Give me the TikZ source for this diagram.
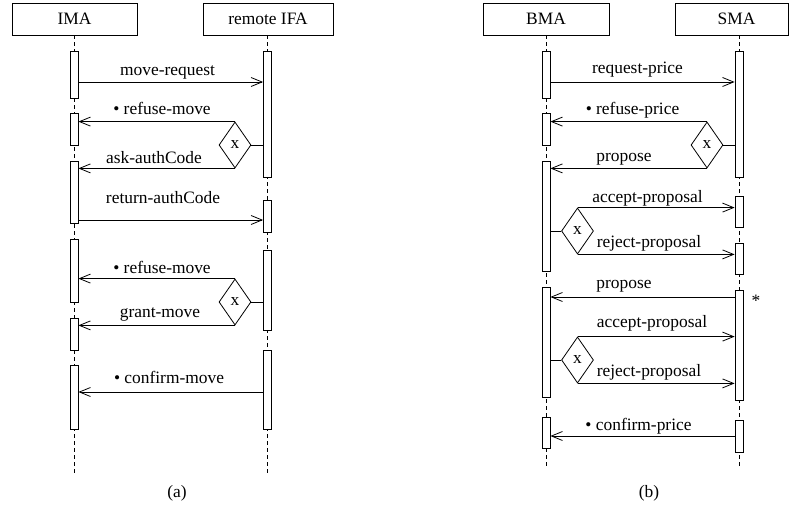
\documentclass[tikz,border=0pt]{standalone}
\usepackage{fontspec}
\setmainfont{Liberation Serif}
\usetikzlibrary{arrows.meta,shapes.geometric}

\tikzset{
  head/.style={draw, rectangle, minimum height=32pt, inner sep=0pt},
  actbar/.style={draw, fill=white, rectangle, minimum width=8pt, inner sep=0pt},
  lifeline/.style={dash pattern=on 4pt off 3pt},
  msg/.style={-{Straight Barb[length=11pt,width=9pt,line width=0.8pt]}},
  choice/.style={draw, diamond, minimum width=32pt, minimum height=46pt, inner sep=0pt},
  lbl/.style={anchor=base, inner sep=0pt},
}

% activation bar: name, x, top y, bottom y
\newcommand{\abar}[4]{\node[actbar, minimum height={#4-#3}] (#1) at (#2,{(#3+#4)/2}) {};}

\begin{document}
\begin{tikzpicture}[x=1pt, y=-1pt, line width=0.8pt, font=\fontsize{17.4}{20}\selectfont]
\useasboundingbox (0,0) rectangle (789,505);

% ---------------- (a) ----------------
\node[head, minimum width=125pt] (ima) at (74.5,19) {IMA};
\node[head, minimum width=130pt] (ifa) at (268,19) {remote IFA};

\coordinate (imaend) at (74,476);
\coordinate (ifaend) at (267.5,476);
\draw[lifeline] (ima.south -| imaend) -- (imaend);
\draw[lifeline] (ifa.south -| ifaend) -- (ifaend);

\abar{i1}{74}{51}{98}
\abar{i2}{74}{113}{145}
\abar{i3}{74}{161}{223}
\abar{i4}{74}{239}{302}
\abar{i5}{74}{318}{350}
\abar{i6}{74}{365}{429}

\abar{f1}{267.5}{51}{177}
\abar{f2}{267.5}{200}{232}
\abar{f3}{267.5}{250}{330}
\abar{f4}{267.5}{350}{429}

\node[choice] (d1) at (235,145) {x};
\node[choice] (d2) at (235,302) {x};

\coordinate (ra1) at (0,82);
\coordinate (ra2) at (0,220);
\coordinate (ra3) at (0,392);

\draw[msg] (i1.east |- ra1) -- (f1.west |- ra1);
\draw[msg] (d1.north) -- (i2.east |- d1.north);
\draw (d1.east) -- (f1.west |- d1.east);
\draw[msg] (d1.south) -- (i3.east |- d1.south);
\draw[msg] (i3.east |- ra2) -- (f2.west |- ra2);
\draw[msg] (d2.north) -- (i4.east |- d2.north);
\draw (d2.east) -- (f3.west |- d2.east);
\draw[msg] (d2.south) -- (i5.east |- d2.south);
\draw[msg] (f4.west |- ra3) -- (i6.east |- ra3);

\node[lbl] (la1) at (167.5,76) {move-request};
\node[lbl] (la2) at (162,115) {• refuse-move};
\node[lbl] (la3) at (154,164) {ask-authCode};
\node[lbl] (la4) at (163,204) {return-authCode};
\node[lbl] (la5) at (162,273) {• refuse-move};
\node[lbl] (la6) at (160,317) {grant-move};
\node[lbl] (la7) at (169,383) {• confirm-move};
\node[lbl] (capa) at (177,497) {(a)};

% ---------------- (b) ----------------
\node[head, minimum width=126pt] (bma) at (546,19) {BMA};
\node[head, minimum width=113pt] (sma) at (731.5,19) {\hspace*{10pt}SMA};

\coordinate (bmaend) at (546,468);
\coordinate (smaend) at (739,468);
\draw[lifeline] (bma.south -| bmaend) -- (bmaend);
\draw[lifeline] (sma.south -| smaend) -- (smaend);

\abar{b1}{546}{51}{98}
\abar{b2}{546}{113}{145}
\abar{b3}{546}{161}{271}
\abar{b4}{546}{287}{397}
\abar{b5}{546}{417}{448}

\abar{s1}{739}{51}{177}
\abar{s2}{739}{196}{227}
\abar{s3}{739}{243}{274}
\abar{s4}{739}{290}{400}
\abar{s5}{739}{420}{452}

\node[choice] (d3) at (707,145) {x};
\node[choice] (d4) at (577.5,231) {x};
\node[choice] (d5) at (577.5,360) {x};

\coordinate (rb1) at (0,82);
\coordinate (rb2) at (0,297);
\coordinate (rb3) at (0,436);

\draw[msg] (b1.east |- rb1) -- (s1.west |- rb1);
\draw[msg] (d3.north) -- (b2.east |- d3.north);
\draw (d3.east) -- (s1.west |- d3.east);
\draw[msg] (d3.south) -- (b3.east |- d3.south);
\draw (b3.east |- d4.west) -- (d4.west);
\draw[msg] (d4.north) -- (s2.west |- d4.north);
\draw[msg] (d4.south) -- (s3.west |- d4.south);
\draw[msg] (s4.west |- rb2) -- (b4.east |- rb2);
\draw (b4.east |- d5.west) -- (d5.west);
\draw[msg] (d5.north) -- (s4.west |- d5.north);
\draw[msg] (d5.south) -- (s4.west |- d5.south);
\draw[msg] (s5.west |- rb3) -- (b5.east |- rb3);

\node[lbl] (lb1) at (637.5,74) {request-price};
\node[lbl] (lb2) at (632.5,115) {• refuse-price};
\node[lbl] (lb3) at (624,162) {propose};
\node[lbl] (lb4) at (647.5,203) {accept-proposal};
\node[lbl] (lb5) at (649,247) {reject-proposal};
\node[lbl] (lb6) at (624,288) {propose};
\node[lbl] (lb7) at (652,327) {accept-proposal};
\node[lbl] (lb8) at (649,376) {reject-proposal};
\node[lbl] (lb9) at (638.5,430) {• confirm-price};
\node[lbl] (star) at (756,306) {*};
\node[lbl] (capb) at (649,497) {(b)};
\end{tikzpicture}
\end{document}
